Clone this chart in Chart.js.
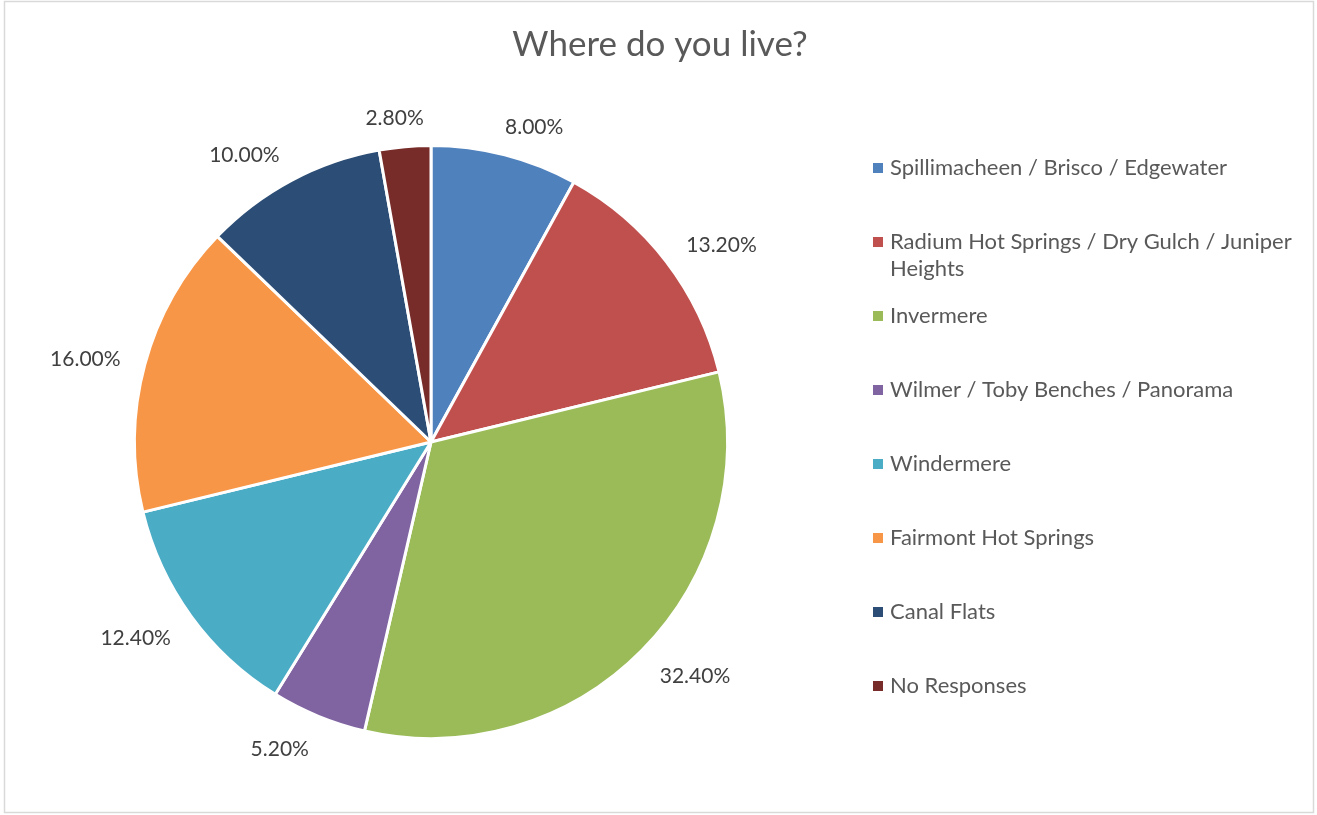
<!DOCTYPE html>
<html>
<head>
<meta charset="utf-8">
<title>Where do you live?</title>
<script src="https://cdn.jsdelivr.net/npm/chart.js@4.4.0/dist/chart.umd.min.js"></script>
<style>
    html, body { margin: 0; padding: 0; background: #fff; }
    #wrap { position: relative; width: 1317px; height: 815px; }
</style>
</head>
<body>
<div id="wrap"><canvas id="grafico"></canvas></div>
<script>
// Dados da pesquisa
const regions = [
    'Spillimacheen / Brisco / Edgewater',
    'Radium Hot Springs / Dry Gulch / Juniper Heights',
    'Invermere',
    'Wilmer / Toby Benches / Panorama',
    'Windermere',
    'Fairmont Hot Springs',
    'Canal Flats',
    'No Responses'
];
const shares = [8.0, 13.2, 32.4, 5.2, 12.4, 16.0, 10.0, 2.8];
const sliceColors = ['#4F81BD', '#C0504D', '#9BBB59', '#8064A2', '#4BACC6', '#F79646', '#2C4D75', '#772C2A'];
const chartTitle = 'Where do you live?';

const FONT = 'Lato, Carlito, "Open Sans", sans-serif';

// Moldura, título, rótulos de porcentagem e legenda
const decorations = {
    id: 'decorations',
    beforeDraw(chart) {
        const ctx = chart.ctx;
        ctx.save();
        ctx.strokeStyle = '#d9d9d9';
        ctx.lineWidth = 1.5;
        ctx.strokeRect(4.5, 1.5, 1309, 811);
        ctx.restore();
    },
    afterDraw(chart) {
        const ctx = chart.ctx;
        ctx.save();

        // título
        ctx.fillStyle = '#595959';
        ctx.font = '35px ' + FONT;
        ctx.textAlign = 'center';
        ctx.textBaseline = 'middle';
        ctx.fillText(chartTitle, 660, 45);

        // rótulos fora das fatias
        ctx.fillStyle = '#404040';
        ctx.font = '21px ' + FONT;
        const meta = chart.getDatasetMeta(0);
        meta.data.forEach((arc, i) => {
            const mid = (arc.startAngle + arc.endAngle) / 2;
            const cos = Math.cos(mid), sin = Math.sin(mid);
            const text = shares[i].toFixed(2) + '%';
            const w = ctx.measureText(text).width;
            const h = 14;
            const r = arc.outerRadius + 25;
            // empurra o texto para o lado de fora, mais forte na horizontal
            const kx = Math.max(-1, Math.min(1, cos * 3.2));
            const x = arc.x + cos * r + kx * w / 2;
            const y = arc.y + sin * r + sin * h / 2 + 3;
            ctx.fillText(text, x, y);
        });

        // legenda à direita
        ctx.textAlign = 'left';
        ctx.font = '22px ' + FONT;
        const maxWidth = 410;
        let y = 168;
        regions.forEach((name, i) => {
            const words = name.split(' ');
            const lines = [];
            let line = '';
            words.forEach(wd => {
                const test = line ? line + ' ' + wd : wd;
                if (ctx.measureText(test).width > maxWidth && line) {
                    lines.push(line);
                    line = wd;
                } else {
                    line = test;
                }
            });
            lines.push(line);

            ctx.fillStyle = sliceColors[i];
            ctx.fillRect(873, y - 5, 10, 10);
            ctx.fillStyle = '#595959';
            lines.forEach((ln, k) => ctx.fillText(ln, 890, y + k * 27));
            y += 74;
        });
        ctx.restore();
    }
};

const ctx = document.getElementById('grafico').getContext('2d');
window.grafico = new Chart(ctx, {
    type: 'pie',
    data: {
        labels: regions,
        datasets: [{
            data: shares,
            backgroundColor: sliceColors,
            borderColor: '#ffffff',
            borderWidth: 3
        }]
    },
    options: {
        responsive: true,
        maintainAspectRatio: false,
        animation: false,
        layout: {
            padding: { left: 133, top: 144, right: 588, bottom: 75 }
        },
        plugins: {
            legend: { display: false },
            title: { display: false },
            tooltip: { enabled: false }
        }
    },
    plugins: [decorations]
});
</script>
</body>
</html>
